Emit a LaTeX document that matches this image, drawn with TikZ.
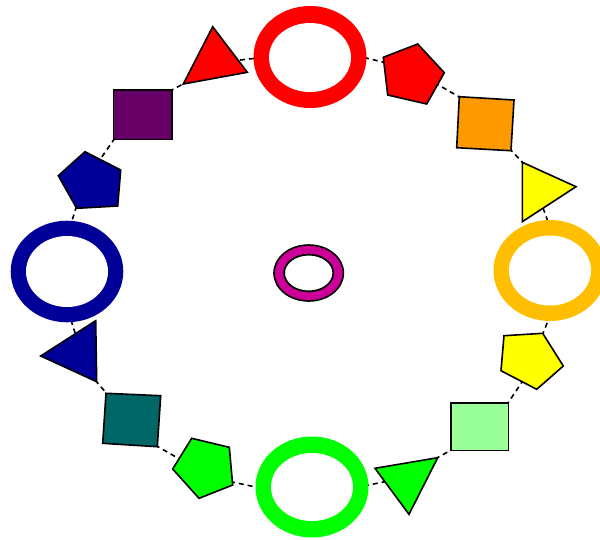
\documentclass[tikz,border=0pt]{standalone}
\begin{document}
\begin{tikzpicture}[x=1pt,y=-1pt,
  conn/.style={draw=black,line width=1.6pt,dash pattern=on 5pt off 4pt},
  shp/.style={draw=black,line width=1.6pt,line join=miter}]
\useasboundingbox (0,0) rectangle (600,539);
\definecolor{cred}{HTML}{FF0000}
\definecolor{cblue}{HTML}{000099}
\definecolor{cgreen}{HTML}{00FF00}
\definecolor{camber}{HTML}{FFBF00}
\definecolor{cyellow}{HTML}{FFFF00}
\definecolor{corange}{HTML}{FF9900}
\definecolor{clgreen}{HTML}{99FF99}
\definecolor{cteal}{HTML}{006666}
\definecolor{cpurple}{HTML}{660066}
\definecolor{cmag}{HTML}{CC0099}
% connector end points
\coordinate (a1) at (240,60);   \coordinate (b1) at (258,58);
\coordinate (a2) at (169,91.5); \coordinate (b2) at (185,83);
\coordinate (a3) at (115,138);  \coordinate (b3) at (99,161);
\coordinate (a4) at (76.5,206); \coordinate (b4) at (71,224);
\coordinate (a5) at (71,320);   \coordinate (b5) at (76,336);
\coordinate (a6) at (95,380);   \coordinate (b6) at (108,395);
\coordinate (a7) at (155,445);  \coordinate (b7) at (183,461);
\coordinate (a8) at (230,481.5);\coordinate (b8) at (258,487.5);
\coordinate (a9) at (364,486);  \coordinate (b9) at (388,481);
\coordinate (a10) at (435,459); \coordinate (b10) at (453,449);
\coordinate (a11) at (506,406); \coordinate (b11) at (522,382);
\coordinate (a12) at (542,336); \coordinate (b12) at (547.5,322);
\coordinate (a13) at (543,208); \coordinate (b13) at (548.5,223);
\coordinate (a14) at (509,148); \coordinate (b14) at (524,164);
\coordinate (a15) at (462,98.5);\coordinate (b15) at (435,83);
\coordinate (a16) at (364,57.5);\coordinate (b16) at (387,63);
\foreach \i in {1,...,16} {\draw[conn] (a\i) -- (b\i);}
% rings
\fill[cred] (310,57) ellipse [x radius=56.5,y radius=51];
\fill[white] (310,57.5) ellipse [x radius=41,y radius=34.5];
\fill[cblue] (67,271.5) ellipse [x radius=56.3,y radius=50.8];
\fill[white] (67,271.5) ellipse [x radius=41,y radius=35.5];
\fill[cgreen] (312,487) ellipse [x radius=56.5,y radius=50.5];
\fill[white] (312,487) ellipse [x radius=41,y radius=34];
\fill[camber] (550,270.5) ellipse [x radius=56.5,y radius=50.5];
\fill[white] (550,270.5) ellipse [x radius=41,y radius=35];
% centre ring
\path[shp,fill=cmag,even odd rule] (308.7,273) ellipse [x radius=34.7,y radius=28]
  (308.7,273) ellipse [x radius=24.5,y radius=18.3];
\fill[white] (308.7,273) ellipse [x radius=24.5,y radius=18.3];
\draw[shp] (308.7,273) ellipse [x radius=24.5,y radius=18.3];
% triangles
\draw[shp,fill=cred] (212.7,26.7) -- (183.3,84) -- (247.3,72.3) -- cycle;
\draw[shp,fill=cblue] (95.7,320.7) -- (40.7,356) -- (96.7,381.7) -- cycle;
\draw[shp,fill=cgreen] (375,468.3) -- (437.7,457.7) -- (409,514.3) -- cycle;
\draw[shp,fill=cyellow] (522.3,162.3) -- (576,186.7) -- (522.3,221.7) -- cycle;
% pentagons
\draw[shp,fill=cred] (383.3,57.3) -- (417.7,44) -- (444.3,72.7) -- (426.7,104) -- (387.7,95) -- cycle;
\draw[shp,fill=cblue] (85,151.7) -- (120.7,170) -- (117.7,206) -- (76.7,208.3) -- (58.3,175.7) -- cycle;
\draw[shp,fill=cgreen] (191.7,438.3) -- (229.3,447.3) -- (232.7,485) -- (199,498.3) -- (172.7,469) -- cycle;
\draw[shp,fill=cyellow] (504,335.7) -- (542.7,333.3) -- (563.3,366) -- (536.7,389.3) -- (501,370.7) -- cycle;
% squares
\draw[shp,fill=cpurple] (113.3,90) -- (171.7,90) -- (171.7,139.3) -- (113.3,139.3) -- cycle;
\draw[shp,fill=cteal] (106,393.3) -- (160.7,395.7) -- (157.3,446.7) -- (102.7,443.3) -- cycle;
\draw[shp,fill=clgreen] (450.7,402.7) -- (508.3,402.7) -- (508.3,450.3) -- (450.7,450.3) -- cycle;
\draw[shp,fill=corange] (459.3,96.7) -- (514,100) -- (511,150.7) -- (456.7,147.7) -- cycle;
\end{tikzpicture}
\end{document}
